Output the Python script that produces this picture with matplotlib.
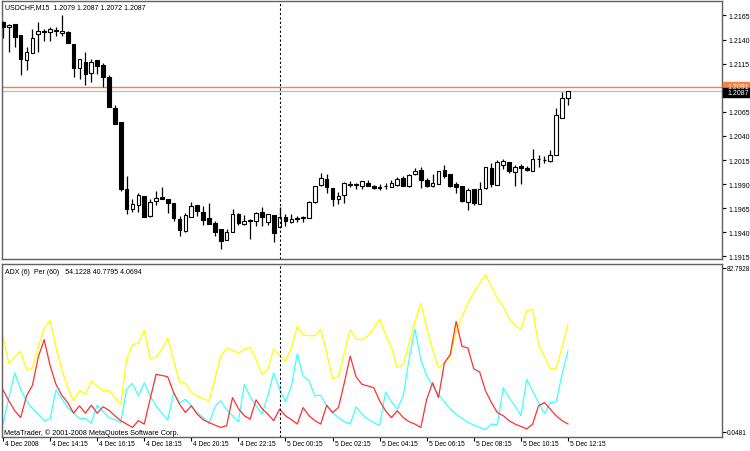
import numpy as np
import matplotlib
matplotlib.use('Agg')
import matplotlib.pyplot as plt
import matplotlib.transforms as mtransforms
from matplotlib.patches import Rectangle

plt.rcParams['font.family'] = ['Liberation Sans', 'DejaVu Sans']

# USDCHF M15 candles, 4 Dec 2008 12:15 .. 5 Dec 2008 12:15
opens = [1.2158, 1.2153, 1.2156, 1.2145, 1.2119, 1.2126, 1.2146, 1.2149, 1.2148, 1.2150,
         1.2147, 1.2148, 1.2135, 1.2110, 1.2117, 1.2105, 1.2119, 1.2114, 1.2101, 1.2069,
         1.2054, 1.1985, 1.1964, 1.1968, 1.1978, 1.1957, 1.1973, 1.1977, 1.1975, 1.1971,
         1.1954, 1.1941, 1.1956, 1.1968, 1.1961, 1.1955, 1.1950, 1.1943, 1.1932, 1.1940,
         1.1959, 1.1949, 1.1953, 1.1952, 1.1961, 1.1951, 1.1958, 1.1946, 1.1956, 1.1951,
         1.1955, 1.1956, 1.1955, 1.1972, 1.1989, 1.1995, 1.1986, 1.1975, 1.1979, 1.1990,
         1.1990, 1.1988, 1.1991, 1.1988, 1.1987, 1.1988, 1.1987, 1.1989, 1.1996, 1.1988,
         1.2001, 1.2005, 1.1994, 1.1988, 1.1990, 1.2005, 1.2001, 1.1990, 1.1988, 1.1972,
         1.1985, 1.1969, 1.1986, 1.2007, 1.1989, 1.2010, 1.2013, 1.2003, 1.2009, 1.2007,
         1.2004, 1.2016, 1.2015, 1.2014, 1.2020, 1.2059, 1.2079]
highs = [1.2159, 1.2156, 1.2156, 1.2145, 1.2132, 1.2151, 1.2158, 1.2151, 1.2153, 1.2153,
         1.2165, 1.2149, 1.2135, 1.2120, 1.2127, 1.2120, 1.2119, 1.2116, 1.2103, 1.2072,
         1.2054, 1.1999, 1.1975, 1.1981, 1.1978, 1.1975, 1.1983, 1.1987, 1.1975, 1.1971,
         1.1957, 1.1960, 1.1972, 1.1968, 1.1967, 1.1971, 1.1952, 1.1943, 1.1943, 1.1964,
         1.1960, 1.1958, 1.1954, 1.1961, 1.1966, 1.1959, 1.1958, 1.1966, 1.1959, 1.1959,
         1.1957, 1.1957, 1.1973, 1.1988, 1.2002, 1.2001, 1.1986, 1.1982, 1.1992, 1.1993,
         1.1991, 1.1993, 1.1994, 1.1989, 1.1990, 1.1991, 1.1994, 1.1997, 1.1998, 1.2001,
         1.2007, 1.2008, 1.1996, 1.2001, 1.2004, 1.2010, 1.2001, 1.1992, 1.1988, 1.1986,
         1.1985, 1.1992, 1.2008, 1.2012, 1.2015, 1.2016, 1.2013, 1.2010, 1.2011, 1.2009,
         1.2026, 1.2020, 1.2019, 1.2025, 1.2069, 1.2086, 1.2087]
lows = [1.2142, 1.2127, 1.2132, 1.2103, 1.2108, 1.2126, 1.2127, 1.2139, 1.2139, 1.2144,
        1.2144, 1.2136, 1.2101, 1.2099, 1.2093, 1.2096, 1.2104, 1.2091, 1.2070, 1.2052,
        1.1983, 1.1959, 1.1961, 1.1961, 1.1956, 1.1956, 1.1968, 1.1975, 1.1960, 1.1952,
        1.1936, 1.1940, 1.1956, 1.1957, 1.1948, 1.1949, 1.1936, 1.1923, 1.1932, 1.1940,
        1.1948, 1.1948, 1.1933, 1.1947, 1.1947, 1.1948, 1.1930, 1.1946, 1.1947, 1.1950,
        1.1951, 1.1951, 1.1955, 1.1971, 1.1988, 1.1981, 1.1967, 1.1969, 1.1970, 1.1987,
        1.1985, 1.1985, 1.1988, 1.1985, 1.1984, 1.1985, 1.1987, 1.1988, 1.1988, 1.1987,
        1.2000, 1.1986, 1.1987, 1.1987, 1.1990, 1.1996, 1.1987, 1.1981, 1.1972, 1.1963,
        1.1968, 1.1969, 1.1985, 1.1987, 1.1989, 1.2006, 1.2002, 1.1988, 1.1990, 1.2004,
        1.2004, 1.2008, 1.2012, 1.2013, 1.2020, 1.2059, 1.2072]
closes = [1.2153, 1.2155, 1.2143, 1.2120, 1.2127, 1.2142, 1.2149, 1.2148, 1.2151, 1.2149,
          1.2149, 1.2136, 1.2110, 1.2120, 1.2104, 1.2117, 1.2113, 1.2101, 1.2070, 1.2052,
          1.1985, 1.1964, 1.1969, 1.1979, 1.1956, 1.1972, 1.1976, 1.1975, 1.1971, 1.1955,
          1.1942, 1.1958, 1.1967, 1.1962, 1.1953, 1.1949, 1.1940, 1.1931, 1.1940, 1.1959,
          1.1950, 1.1952, 1.1952, 1.1960, 1.1956, 1.1959, 1.1939, 1.1956, 1.1952, 1.1954,
          1.1954, 1.1955, 1.1972, 1.1988, 1.1996, 1.1987, 1.1975, 1.1978, 1.1991, 1.1989,
          1.1989, 1.1993, 1.1988, 1.1986, 1.1986, 1.1988, 1.1991, 1.1995, 1.1988, 1.2000,
          1.2004, 1.1994, 1.1988, 1.1991, 1.2004, 1.1999, 1.1988, 1.1987, 1.1973, 1.1984,
          1.1970, 1.1985, 1.2008, 1.1990, 1.2013, 1.2014, 1.2004, 1.2008, 1.2007, 1.2005,
          1.2016, 1.2016, 1.2015, 1.2020, 1.2062, 1.2079, 1.2087]

# ADX(6) lines
adx_main = [47.8, 34.5, 37.8, 40.7, 31.2, 32.3, 42.8, 52.3, 56.2, 42.8,
            31.5, 22.3, 15.7, 21.0, 19.0, 25.7, 23.2, 20.7, 21.0, 17.3,
            14.0, 36.5, 44.0, 44.8, 51.2, 37.0, 37.7, 41.8, 47.3, 35.7,
            25.2, 24.5, 19.8, 18.2, 16.8, 15.7, 26.5, 38.2, 42.3, 41.2,
            39.8, 41.5, 42.8, 36.5, 29.0, 31.8, 41.8, 38.7, 35.7, 42.3,
            53.2, 49.0, 48.5, 48.5, 51.8, 39.8, 27.0, 27.7, 39.8, 51.5,
            46.8, 46.5, 48.5, 52.3, 56.8, 49.0, 42.8, 32.3, 34.0, 44.8,
            55.7, 64.8, 52.3, 41.5, 32.3, 34.8, 38.2, 50.7, 58.2, 64.8,
            70.2, 74.8, 79.3, 73.2, 67.3, 63.2, 57.3, 54.0, 51.5, 61.2,
            61.8, 44.0, 38.2, 32.0, 32.0, 42.8, 54.1228]
plus_di = [4.0, 17.3, 29.8, 21.5, 15.7, 11.8, 9.0, 5.7, 6.5, 21.2,
           16.8, 12.3, 9.5, 6.8, 6.8, 4.5, 13.5, 10.2, 7.3, 6.2,
           4.8, 21.5, 24.5, 18.2, 24.8, 18.2, 13.2, 9.5, 6.0, 19.8,
           14.5, 16.5, 13.2, 9.8, 7.3, 4.3, 12.7, 15.7, 11.2, 8.2,
           5.2, 24.0, 17.8, 13.2, 9.0, 18.2, 29.8, 21.5, 15.2, 23.2,
           39.3, 28.2, 25.7, 18.2, 18.5, 13.2, 9.8, 7.3, 5.2, 4.0,
           12.7, 9.0, 6.5, 4.8, 3.2, 20.2, 15.2, 11.5, 18.2, 36.5,
           51.8, 36.5, 28.2, 23.2, 19.0, 15.2, 11.5, 9.0, 6.8, 4.8,
           3.5, 2.3, 1.2, 4.0, 3.5, 22.3, 17.3, 13.2, 8.2, 26.5,
           20.7, 14.8, 9.3, 14.8, 15.2, 29.0, 40.7795]
minus_di = [21.2, 15.7, 10.7, 7.3, 18.2, 23.5, 37.8, 46.5, 33.5, 24.0,
            18.5, 14.8, 9.5, 13.2, 9.5, 13.5, 9.5, 12.7, 11.0, 8.2,
            5.7, 4.0, 2.3, 5.7, 4.0, 16.5, 29.0, 28.5, 27.8, 19.8,
            14.0, 9.8, 13.2, 9.0, 6.2, 4.8, 3.5, 2.3, 3.2, 17.3,
            11.8, 8.2, 6.5, 16.2, 11.8, 9.0, 5.7, 11.5, 8.2, 6.2,
            4.0, 12.3, 8.2, 5.7, 4.0, 13.5, 9.8, 12.3, 24.8, 38.2,
            27.8, 24.0, 23.2, 22.3, 15.7, 10.7, 7.3, 10.7, 7.3, 5.2,
            4.0, 2.3, 16.5, 24.8, 17.3, 34.8, 39.0, 55.7, 43.2, 42.3,
            31.8, 30.2, 20.7, 14.8, 9.8, 8.2, 5.7, 4.0, 2.8, 1.5,
            4.0, 13.2, 14.8, 11.5, 8.2, 5.7, 4.0694]

price_ticks = [1.2165, 1.2140, 1.2115, 1.2065, 1.2040, 1.2015, 1.1990, 1.1965, 1.1940, 1.1915]
time_labels = ['4 Dec 2008', '4 Dec 14:15', '4 Dec 16:15', '4 Dec 18:15', '4 Dec 20:15',
               '4 Dec 22:15', '5 Dec 00:15', '5 Dec 02:15', '5 Dec 04:15', '5 Dec 06:15',
               '5 Dec 08:15', '5 Dec 10:15', '5 Dec 12:15']
day_sep = 47          # bar of 5 Dec 00:00
bid = 1.2087
ask_line = 1.2091
adx_max, adx_min = 82.7928, 0.0481

W, H = 750, 452
fig = plt.figure(figsize=(7.5, 4.52), dpi=100)
fig.patch.set_facecolor('white')

def fx(x):
    return x / W

def fy(y):
    return 1 - y / H

ax = fig.add_axes([fx(2), fy(260), fx(720), 258 / H])
ax2 = fig.add_axes([fx(2), fy(438), fx(720), 173 / H])

x = np.arange(len(opens))
o = np.array(opens)
c = np.array(closes)
up = c >= o

# candles
ax.vlines(x, lows, highs, color='black', lw=0.9, zorder=2)
ax.bar(x, np.maximum(np.abs(c - o), 0.00003), bottom=np.minimum(o, c), width=0.62,
       color=np.where(up, 'white', 'black'), edgecolor='black', linewidth=0.8, zorder=3)

ax.axhline(ask_line, color='#ff7f3f', lw=1.0, zorder=1)
ax.axhline(bid, color='#c0c0c0', lw=1.0, zorder=1)

xlim = (-0.17, 122.18)
ax.set_xlim(xlim)
ax.set_ylim(1.19124, 1.21800)
ax.set_xticks([])
ax.yaxis.tick_right()
ax.set_yticks(price_ticks)
ax.set_yticklabels([f'{t:.4f}' for t in price_ticks])
ax.tick_params(axis='y', length=3, width=0.8, pad=2, labelsize=5)

# indicator
ax2.plot(x, adx_main, color='#ffff00', lw=0.9)
ax2.plot(x, plus_di, color='#40ffff', lw=0.9)
ax2.plot(x, minus_di, color='#ff3030', lw=0.9)
ax2.set_xlim(xlim)
ax2.set_ylim(-2.52, 84.63)
ax2.yaxis.tick_right()
ax2.set_yticks([adx_max, adx_min])
ax2.set_yticklabels([f'{adx_max:.4f}', f'{adx_min:.4f}'])
ax2.tick_params(axis='y', length=3, width=0.8, pad=0.5, labelsize=4.7)
ticks = list(range(0, len(opens), 8))
ax2.set_xticks(ticks)
ax2.tick_params(axis='x', length=3, width=0.8, labelbottom=False)

for a in (ax, ax2):
    a.axvline(day_sep, color='black', lw=0.8, linestyle=(0, (2, 2)), zorder=4)
    for s in a.spines.values():
        s.set_color('#606060')
        s.set_linewidth(1)
    a.set_facecolor('white')

tr = mtransforms.blended_transform_factory(ax2.transData, fig.transFigure)
for t, lbl in zip(ticks, time_labels):
    fig.text(t + 0.34, fy(445), lbl, transform=tr, fontsize=4.8, va='center', ha='left')

# price labels on the right
trp = mtransforms.blended_transform_factory(fig.transFigure, ax.transData)
hpx = 0.02676 / 258
for price, col in ((ask_line, '#ff7f3f'), (bid, 'black')):
    dy = -2 * hpx if col == 'black' else 0
    ax.add_artist(Rectangle((fx(723), price - 4.5 * hpx + dy), fx(27), 9 * hpx,
                            transform=trp, color=col, clip_on=False, zorder=5))
    ax.text(fx(727), price + dy, f'{price:.4f}', transform=trp, color='white',
            fontsize=5, va='center', ha='left', clip_on=False, zorder=6)

fig.text(fx(5), fy(7.5), f'USDCHF,M15  {opens[-1]:.4f} {highs[-1]:.4f} {lows[-1]:.4f} {closes[-1]:.4f}',
         fontsize=5, va='center')
fig.text(fx(5), fy(273), f'ADX (6)  Per (60)   {adx_main[-1]:.4f} {plus_di[-1]:.4f} {minus_di[-1]:.4f}',
         fontsize=5, va='center')
fig.text(fx(4), fy(433), 'MetaTrader, © 2001-2008 MetaQuotes Software Corp.', fontsize=5.2, va='center')

fig.savefig('out.png', dpi=100, facecolor='white')
